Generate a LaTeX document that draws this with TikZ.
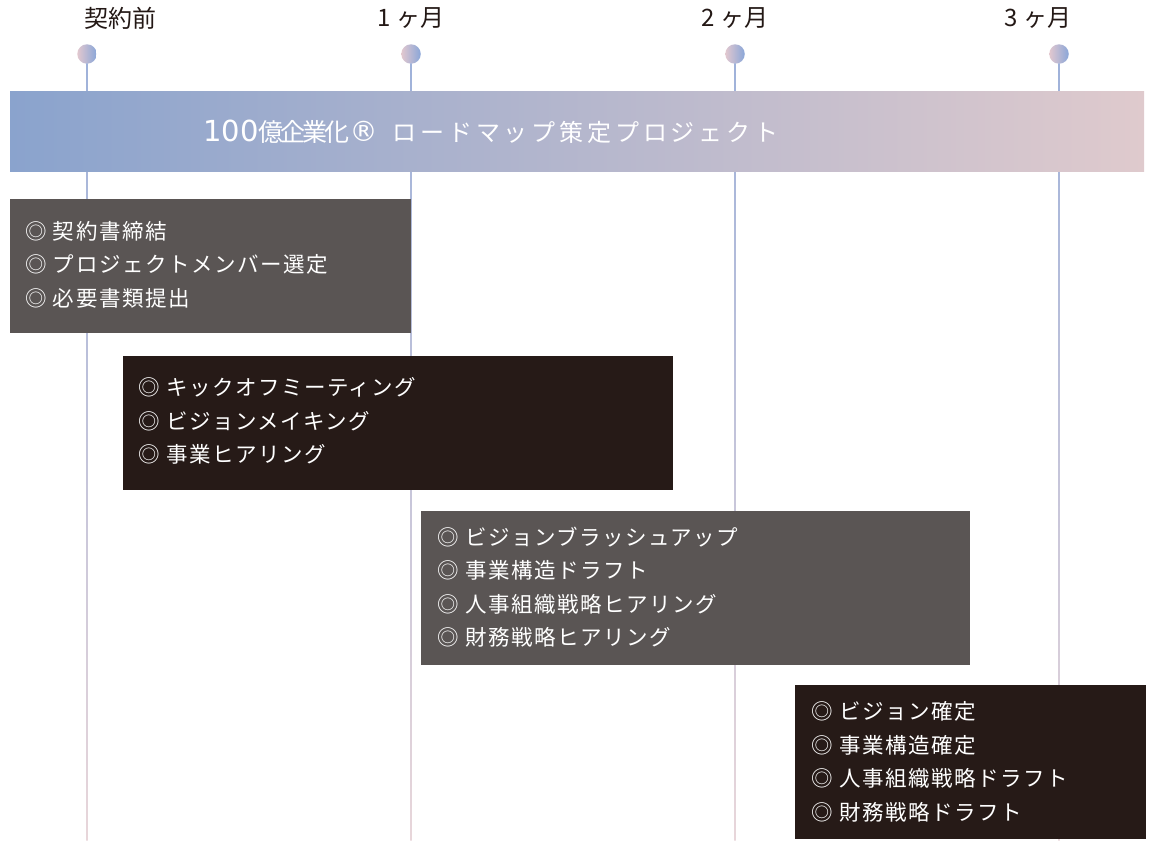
\documentclass[tikz,border=0pt]{standalone}
\usepackage{fontspec}
\setmainfont{Noto Sans CJK JP}
\newfontfamily\jpsp[LetterSpace=16]{Noto Sans CJK JP}
\newfontfamily\jptight[LetterSpace=-12]{Noto Sans CJK JP}
\newfontfamily\jpbox[LetterSpace=7]{Noto Sans CJK JP}
\newfontfamily\dejavu{DejaVu Sans}
\definecolor{lineblue}{HTML}{9FB2DA}
\definecolor{linepink}{HTML}{E8D6DA}
\definecolor{barblue}{HTML}{8AA3CD}
\definecolor{barmid}{HTML}{C2BDD0}
\definecolor{barpink}{HTML}{DFCACD}
\definecolor{dotpink}{HTML}{E2C8CF}
\definecolor{dotblue}{HTML}{8AA6D8}
\definecolor{boxgray}{HTML}{5A5554}
\definecolor{boxdark}{HTML}{261A17}
\definecolor{labeltext}{HTML}{231815}
\tikzset{
  month/.style={text=labeltext, inner sep=0, font={\fontsize{24}{28}\selectfont}},
  dotnode/.style={circle, minimum size=19.5pt, inner sep=0, left color=dotpink, right color=dotblue},
  vline/.style={top color=lineblue, bottom color=linepink},
  phasebox/.style={anchor=north west, inner sep=0, draw=none},
  listtext/.style={text=white, inner sep=0, align=left, anchor=west, font={\jpbox\fontsize{21.5}{33.5}\selectfont}},
}
\begin{document}
\begin{tikzpicture}[x=1pt,y=-1pt]
\useasboundingbox (0,0) rectangle (1158,849);
% month labels
\node[month] (m0) at (120,18) {契約前};
\node[month] (m1) at (411,18) {1 ヶ月};
\node[month] (m2) at (735,18) {2 ヶ月};
\node[month] (m3) at (1038,18) {3 ヶ月};
% dots
\node[dotnode] (d0) at (87,54) {};
\node[dotnode] (d1) at (411,54) {};
\node[dotnode] (d2) at (735,54) {};
\node[dotnode] (d3) at (1059,54) {};
\coordinate (e0) at (87,840);
\coordinate (e1) at (411,840);
\coordinate (e2) at (735,840);
\coordinate (e3) at (1059,840);
% vertical lines
\foreach \i in {0,1,2,3}{
  \shade[vline] ([xshift=-0.7pt]d\i.south) rectangle ([xshift=0.7pt]e\i);
}
% banner
\shade[left color=barblue, middle color=barmid, right color=barpink] (10,91) rectangle (1144,171);
\node[anchor=base west, text=white, inner sep=0] (title) at (203,141)
  {{\dejavu\fontsize{29}{30}\selectfont 100}{\jptight\fontsize{25}{28}\selectfont 億企業化}{\dejavu\fontsize{28}{28}\selectfont ®}\hspace{15pt}{\jpsp\fontsize{24}{28}\selectfont ロードマップ策定プロジェクト}};
% boxes
\node[phasebox, fill=boxgray, minimum width=401pt, minimum height=134pt] (b1) at (10,199) {};
\node[listtext] (t1) at (25,264.5) {◎ 契約書締結\\◎ プロジェクトメンバー選定\\◎ 必要書類提出};
\node[phasebox, fill=boxdark, minimum width=550pt, minimum height=134pt] (b2) at (123,356) {};
\node[listtext] (t2) at (138,421) {◎ キックオフミーティング\\◎ ビジョンメイキング\\◎ 事業ヒアリング};
\node[phasebox, fill=boxgray, minimum width=549pt, minimum height=154pt] (b3) at (421,511) {};
\node[listtext] (t3) at (437,587) {◎ ビジョンブラッシュアップ\\◎ 事業構造ドラフト\\◎ 人事組織戦略ヒアリング\\◎ 財務戦略ヒアリング};
\node[phasebox, fill=boxdark, minimum width=351pt, minimum height=154pt] (b4) at (795,685) {};
\node[listtext] (t4) at (811,762) {◎ ビジョン確定\\◎ 事業構造確定\\◎ 人事組織戦略ドラフト\\◎ 財務戦略ドラフト};
\end{tikzpicture}
\end{document}
